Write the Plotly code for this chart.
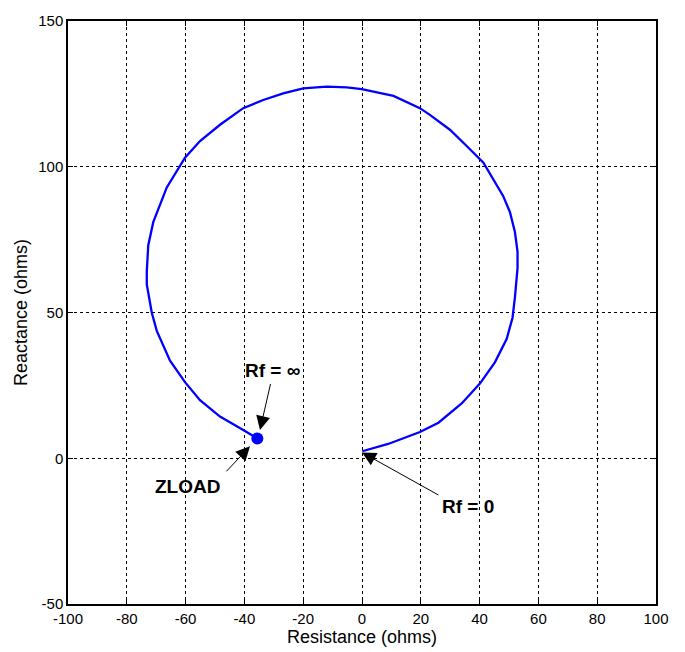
import plotly.graph_objects as go

# Impedance locus
resistance = [0.1, 8.9, 19.7, 26.0, 33.9, 40.1, 45.2, 49.2, 51.2, 52.0, 52.9, 52.9,
              52.0, 50.3, 48.0, 41.3, 35.6, 29.9, 23.1, 19.7, 10.7, -0.1, -5.2,
              -12.0, -20.0, -26.8, -33.6, -40.4, -48.3, -55.1, -60.2, -66.4, -71.0,
              -72.7, -73.2, -73.2, -71.5, -69.8, -65.3, -60.2, -55.1, -48.3, -40.4, -35.6]
reactance = [2.4, 4.9, 9.0, 12.2, 18.8, 25.6, 32.9, 40.9, 48.2, 55.0, 65.2, 70.9,
             77.7, 84.5, 90.0, 101.4, 107.1, 112.7, 117.8, 120.1, 124.3, 126.6, 127.2,
             127.5, 126.9, 125.2, 122.9, 120.1, 114.4, 108.8, 103.1, 92.9, 81.0,
             73.1, 64.1, 59.6, 49.9, 43.7, 33.5, 26.1, 19.9, 14.3, 9.7, 6.8]

zload_x = [-35.6]
zload_y = [6.8]

x_ticks = [-100, -80, -60, -40, -20, 0, 20, 40, 60, 80, 100]
y_ticks = [-50, 0, 50, 100, 150]

# annotations: label text, text position, arrow tail, arrow head
labels = ["Rf = ∞", "ZLOAD", "Rf = 0"]
label_x = [-30.6, -59.2, 36.1]
label_y = [30.1, -9.6, -16.7]
tail_x = [-31.0, -46.6, 26.5]
tail_y = [26.0, -5.0, -12.9]
head_x = [-34.7, -38.1, 0.0]
head_y = [9.7, 4.1, 2.0]

FONT = "Liberation Sans, Arial"

fig = go.Figure()
fig.add_trace(go.Scatter(x=resistance, y=reactance, mode="lines",
                         line=dict(color="#0000ff", width=2.3), showlegend=False))
fig.add_trace(go.Scatter(x=zload_x, y=zload_y, mode="markers",
                         marker=dict(color="#0000ff", size=12), showlegend=False))

annotations = []
for t, lx, ly, tx, ty, hx, hy in zip(labels, label_x, label_y, tail_x, tail_y, head_x, head_y):
    annotations.append(dict(x=hx, y=hy, ax=tx, ay=ty, xref="x", yref="y",
                            axref="x", ayref="y", text="", showarrow=True,
                            arrowhead=2, arrowsize=2.8, arrowwidth=1, arrowcolor="black"))
    annotations.append(dict(x=lx, y=ly, xref="x", yref="y", text="<b>%s</b>" % t,
                            showarrow=False,
                            font=dict(family=FONT, size=19, color="black")))

axis_common = dict(showgrid=True, gridcolor="black", griddash="dot", gridwidth=1,
                   showline=True, linecolor="black", linewidth=1.5, mirror="ticks",
                   ticks="inside", ticklen=5, tickcolor="black", zeroline=False,
                   tickfont=dict(family=FONT, size=15, color="black"))

fig.update_layout(
    width=685, height=652,
    margin=dict(l=68, r=29, t=17, b=46),
    paper_bgcolor="white", plot_bgcolor="white",
    xaxis=dict(range=[-100, 100], tickvals=x_ticks, ticktext=[str(v) for v in x_ticks],
               title=dict(text="Resistance (ohms)", standoff=1,
                          font=dict(family=FONT, size=18, color="black")),
               **axis_common),
    yaxis=dict(range=[-50, 150], tickvals=y_ticks, ticktext=[str(v) for v in y_ticks],
               title=dict(text="Reactance (ohms)", standoff=6,
                          font=dict(family=FONT, size=18, color="black")),
               **axis_common),
    annotations=annotations,
)

fig.write_html("out.html")
